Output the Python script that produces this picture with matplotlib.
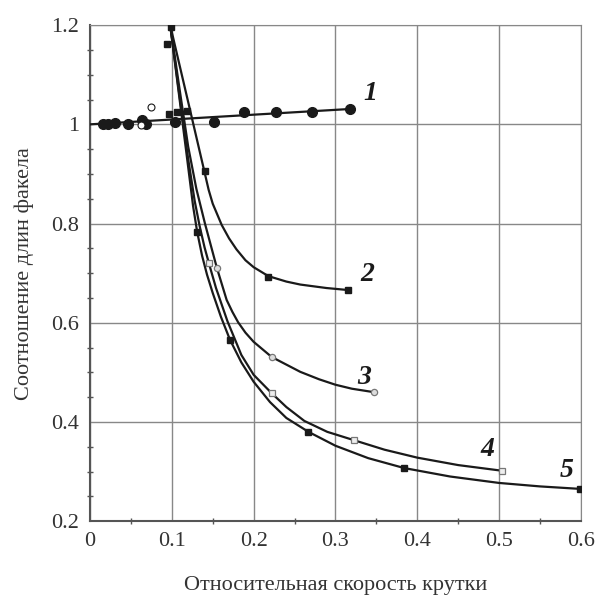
import matplotlib.pyplot as plt
from matplotlib.ticker import MultipleLocator

# curve 1 (line from 0 and filled circles)
x1_line = [0.0, 0.318]
y1_line = [1.0, 1.031]
x1 = [0.0155, 0.022, 0.031, 0.047, 0.063, 0.068, 0.104, 0.151, 0.188, 0.227, 0.271, 0.318]
y1 = [1.0, 1.0, 1.002, 1.0, 1.008, 1.0, 1.005, 1.005, 1.025, 1.025, 1.024, 1.031]
x1_open = [0.062, 0.075]
y1_open = [0.998, 1.035]

# curve 2
x2_line = [0.098, 0.120, 0.1405, 0.145, 0.150, 0.161, 0.170, 0.179, 0.190, 0.200, 0.218, 0.240, 0.257, 0.289, 0.315]
y2_line = [1.2, 1.045, 0.900, 0.868, 0.840, 0.797, 0.770, 0.748, 0.726, 0.712, 0.694, 0.683, 0.677, 0.670, 0.666]
x2 = [0.118, 0.1405, 0.218, 0.315]
y2 = [1.027, 0.905, 0.692, 0.666]

# curve 3
x3_line = [0.098, 0.110, 0.120, 0.130, 0.1405, 0.155, 0.167, 0.174, 0.181, 0.190, 0.200, 0.222, 0.257, 0.280, 0.300, 0.320, 0.347]
y3_line = [1.2, 1.065, 0.955, 0.870, 0.800, 0.711, 0.646, 0.622, 0.601, 0.580, 0.5615, 0.531, 0.501, 0.486, 0.475, 0.467, 0.460]
x3 = [0.155, 0.222, 0.347]
y3 = [0.711, 0.531, 0.460]

# curve 4
x4_line = [0.098, 0.110, 0.120, 0.128, 0.134, 0.140, 0.146, 0.154, 0.168, 0.185, 0.200, 0.222, 0.240, 0.262, 0.290, 0.323, 0.360, 0.400, 0.450, 0.504]
y4_line = [1.2, 1.05, 0.93, 0.845, 0.795, 0.752, 0.716, 0.670, 0.603, 0.535, 0.495, 0.458, 0.430, 0.402, 0.380, 0.363, 0.344, 0.328, 0.313, 0.3015]
x4 = [0.146, 0.222, 0.323, 0.504]
y4 = [0.720, 0.458, 0.363, 0.3015]

# curve 5
x5_line = [0.098, 0.108, 0.118, 0.126, 0.131, 0.137, 0.143, 0.150, 0.160, 0.171, 0.185, 0.200, 0.220, 0.240, 0.267, 0.300, 0.340, 0.384, 0.440, 0.500, 0.550, 0.599]
y5_line = [1.2, 1.07, 0.94, 0.835, 0.783, 0.735, 0.697, 0.660, 0.612, 0.566, 0.520, 0.481, 0.440, 0.408, 0.380, 0.352, 0.327, 0.307, 0.290, 0.277, 0.270, 0.265]
x5 = [0.0937, 0.0986, 0.0966, 0.106, 0.131, 0.171, 0.267, 0.384, 0.599]
y5 = [1.162, 1.197, 1.02, 1.025, 0.783, 0.566, 0.380, 0.307, 0.265]

labels = ["1", "2", "3", "4", "5"]
label_x = [0.334, 0.330, 0.327, 0.477, 0.574]
label_y = [1.063, 0.698, 0.49, 0.345, 0.303]

plt.rcParams['font.family'] = ['Liberation Serif', 'DejaVu Serif']

fig = plt.figure(figsize=(6.02, 5.99), dpi=100)
ax = fig.add_axes([0.1495, 0.130, 0.8155, 0.828])

lc = "#1a1a1a"
ax.plot(x1_line, y1_line, color=lc, lw=1.6, zorder=3)
ax.plot(x1, y1, "o", color=lc, ms=7, zorder=4)
ax.plot(x1_open, y1_open, "o", mfc="white", mec=lc, mew=0.8, ms=5, zorder=4)

ax.plot(x2_line, y2_line, color=lc, lw=1.6, zorder=3)
ax.plot(x2, y2, "s", color=lc, ms=5, zorder=4)

ax.plot(x3_line, y3_line, color=lc, lw=1.6, zorder=3)
ax.plot(x3, y3, "o", mfc="#dddddd", mec="#777777", mew=0.9, ms=4.5, zorder=4)

ax.plot(x4_line, y4_line, color=lc, lw=1.6, zorder=3)
ax.plot(x4, y4, "s", mfc="#eeeeee", mec="#777777", mew=0.9, ms=4.5, zorder=4)

ax.plot(x5_line, y5_line, color=lc, lw=1.6, zorder=3)
ax.plot(x5, y5, "s", color=lc, ms=5, zorder=4)

for t, tx, ty in zip(labels, label_x, label_y):
    ax.text(tx, ty, t, fontsize=20, fontstyle="italic", fontweight="bold",
            color=lc, ha="left", va="center")

ax.set_xlim(0, 0.6)
ax.set_ylim(0.2, 1.2)
ax.xaxis.set_minor_locator(MultipleLocator(0.05))
ax.yaxis.set_minor_locator(MultipleLocator(0.05))
ax.set_xticks([0, 0.1, 0.2, 0.3, 0.4, 0.5, 0.6])
ax.set_xticklabels(["0", "0.1", "0.2", "0.3", "0.4", "0.5", "0.6"])
ax.set_yticks([0.2, 0.4, 0.6, 0.8, 1.0, 1.2])
ax.set_yticklabels(["0.2", "0.4", "0.6", "0.8", "1", "1.2"])
ax.tick_params(which="major", length=0, labelsize=16, labelcolor="#333333", pad=8)
ax.tick_params(which="minor", direction="inout", length=5, width=1, color="#555555")
ax.grid(True, which="major", color="#888888", lw=1)
for s in ax.spines.values():
    s.set_color("#888888")
ax.spines["left"].set_color("#555555")
ax.spines["bottom"].set_color("#555555")
ax.spines["left"].set_linewidth(1.5)
ax.spines["bottom"].set_linewidth(1.5)

ax.set_xlabel("Относительная скорость крутки", fontsize=16, color="#333333", labelpad=18)
ax.set_ylabel("Соотношение длин факела", fontsize=16, color="#333333", labelpad=12)

fig.savefig("out.png", dpi=100)
